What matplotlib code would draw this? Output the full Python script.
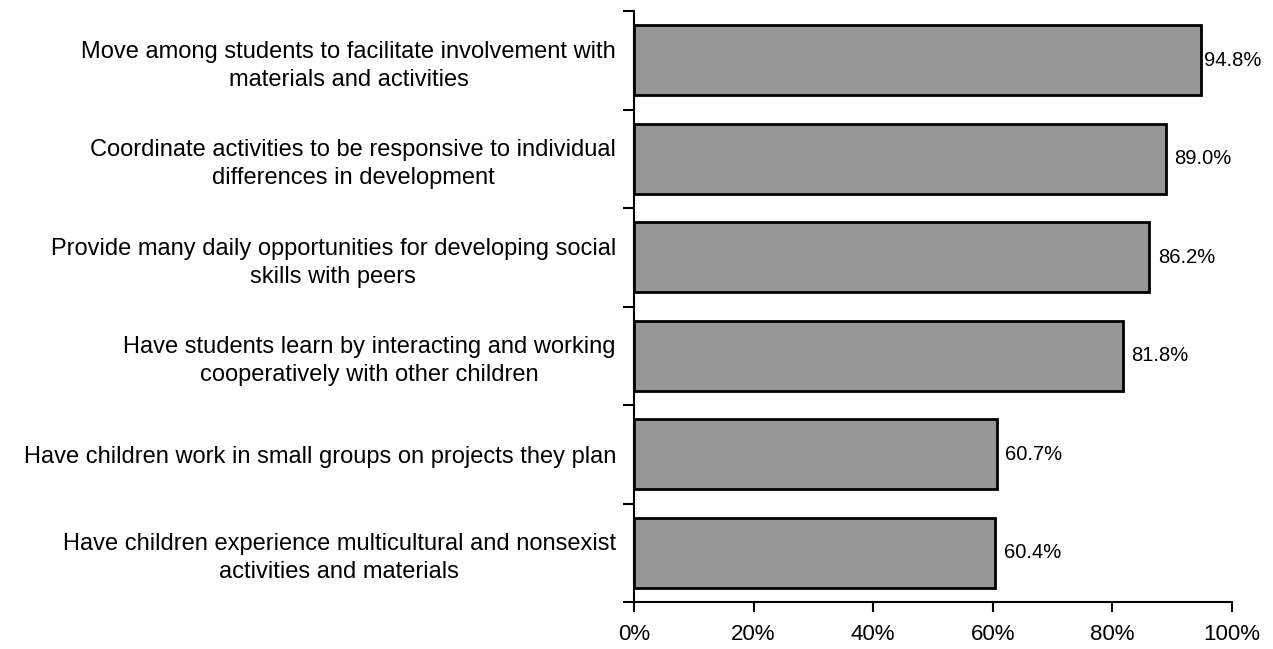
import matplotlib
matplotlib.use("Agg")
import matplotlib.pyplot as plt
from matplotlib.ticker import FuncFormatter

plt.rcParams['font.family'] = ['Liberation Sans', 'DejaVu Sans']

categories = [
    "Move among students to facilitate involvement with\nmaterials and activities",
    "Coordinate activities to be responsive to individual\ndifferences in development",
    "Provide many daily opportunities for developing social\nskills with peers",
    "Have students learn by interacting and working\ncooperatively with other children",
    "Have children work in small groups on projects they plan",
    "Have children experience multicultural and nonsexist\nactivities and materials",
]
values = [94.8, 89.0, 86.2, 81.8, 60.7, 60.4]
xticks = [0, 20, 40, 60, 80, 100]

fig = plt.figure(figsize=(12.73, 6.49), dpi=100)
ax = fig.add_axes([634/1273, 1 - 602/649, 598/1273, 591/649])

n = len(categories)
pos = list(range(n))
ax.barh(pos, values, height=0.71, color='#969696', edgecolor='black', linewidth=2)
ax.set_ylim(n - 0.5, -0.5)
ax.set_xlim(0, 100)

# labels next to bar ends (longest one squeezed in like the original)
for y, v in zip(pos, values):
    off = 2 if v > 93 else 6
    ax.annotate(f"{v:.1f}%", (v, y), xytext=(off, 0), textcoords='offset points',
                va='center', ha='left', fontsize=14.5)

ax.set_yticks([p - 0.5 for p in pos] + [n - 0.5])
ax.set_yticklabels([])
ax.set_yticks(pos, minor=True)
ax.set_yticklabels(categories, minor=True, fontsize=17, multialignment='center',
                   linespacing=1.35)
ax.tick_params(axis='y', which='minor', length=0, pad=13)
ax.tick_params(axis='y', which='major', length=8, width=1.5, direction='out')

ax.set_xticks(xticks)
ax.xaxis.set_major_formatter(FuncFormatter(lambda x, _: f"{x:.0f}%"))
ax.tick_params(axis='x', length=7, width=1.5, labelsize=16, pad=9)

for s in ['top', 'right']:
    ax.spines[s].set_visible(False)
for s in ['left', 'bottom']:
    ax.spines[s].set_linewidth(1.5)

fig.savefig('out.png', dpi=100)
